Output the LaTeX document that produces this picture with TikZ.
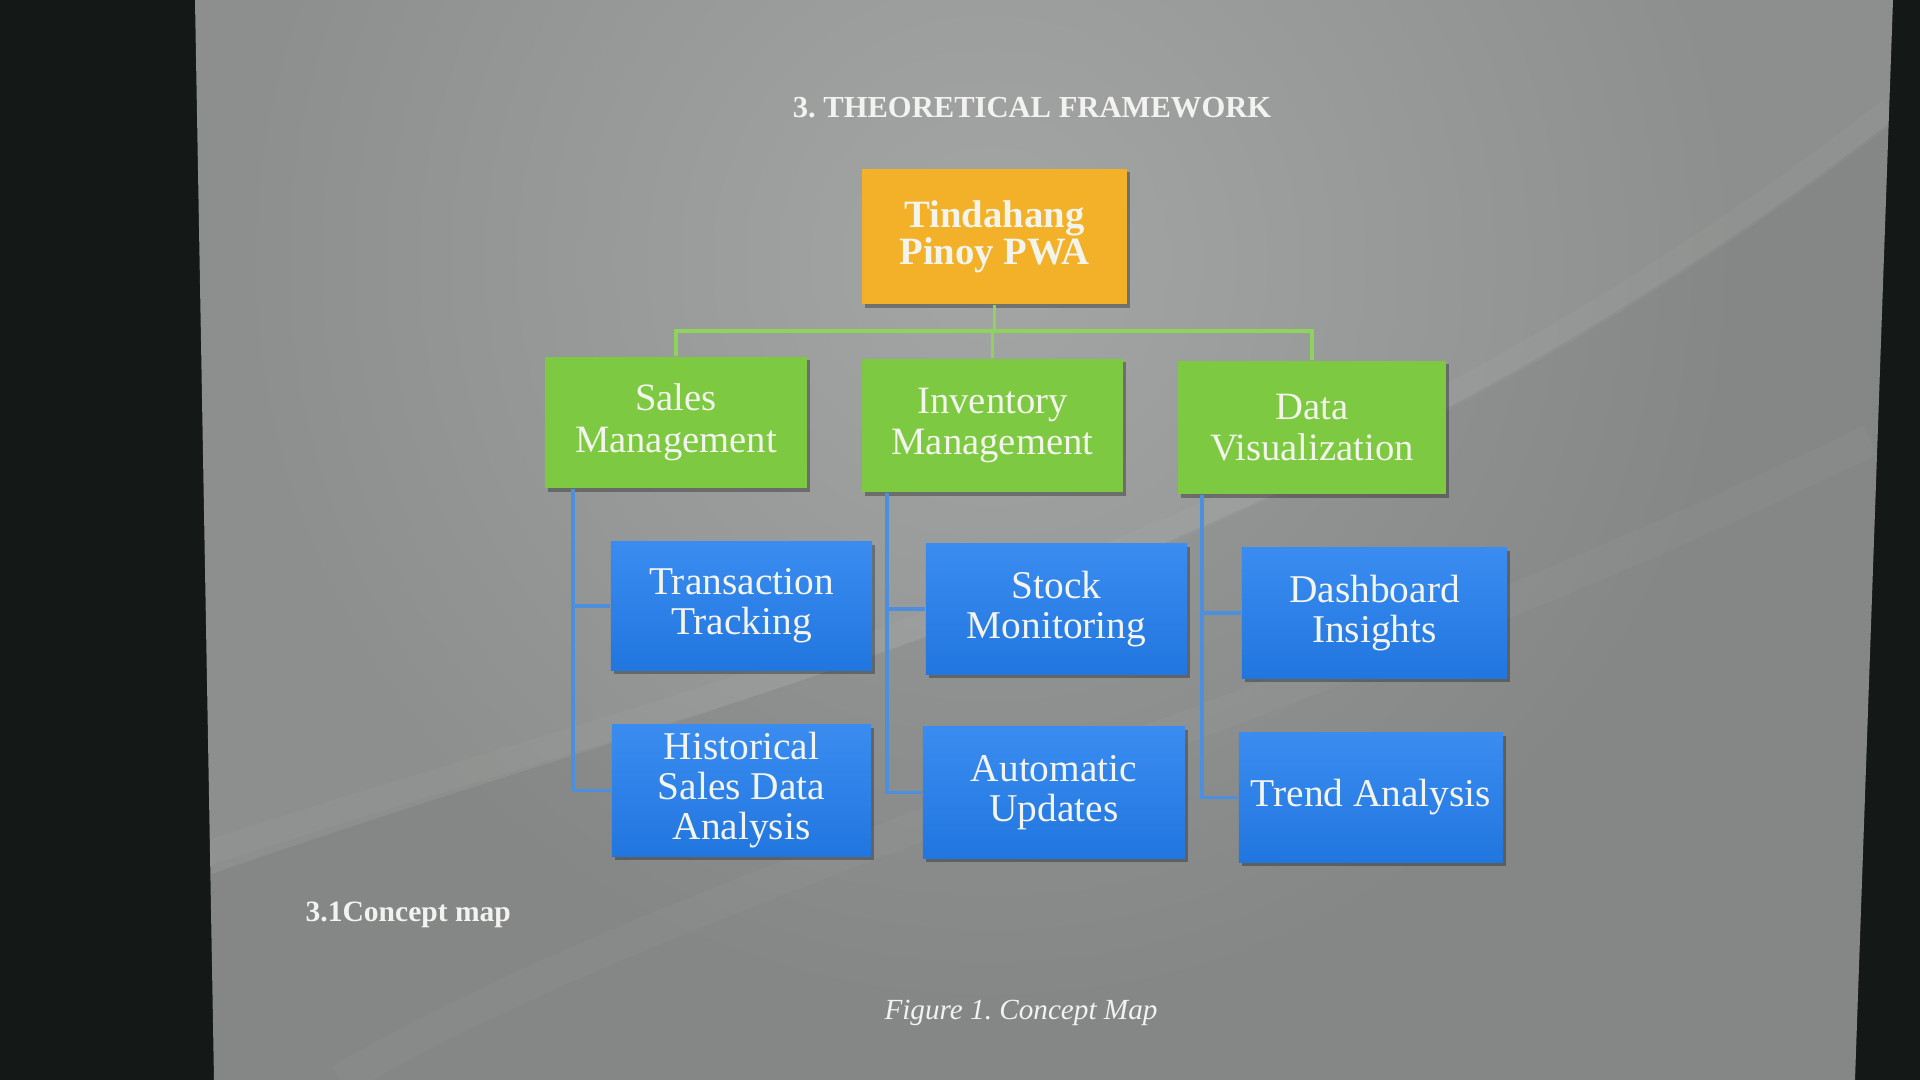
\documentclass[tikz,border=0pt]{standalone}
\usepackage{fontspec}
\setmainfont{Liberation Serif}
\usetikzlibrary{calc,shadows}
\definecolor{screenblack}{HTML}{141816}
\definecolor{slidegray}{HTML}{8C8F8D}
\definecolor{slidelight}{HTML}{A3A6A4}
\definecolor{slidedark}{HTML}{7E817F}
\definecolor{orangec}{HTML}{F2B128}
\definecolor{greenc}{HTML}{7DC942}
\definecolor{bluetop}{HTML}{3A8CF0}
\definecolor{bluebot}{HTML}{2176DF}
\definecolor{greenline}{HTML}{8ED35C}
\definecolor{blueline}{HTML}{4B8FDD}
\definecolor{boxtext}{HTML}{F3F4EC}
\definecolor{pagetextc}{HTML}{F2F2F0}
\tikzset{
  boxbase/.style={draw=none, inner sep=0pt, align=center, text=boxtext,
    drop shadow={shadow xshift=0.8pt, shadow yshift=-1pt, opacity=0.3, fill=black}},
  rootbox/.style={boxbase, fill=orangec, font=\fontsize{11}{10.6}\selectfont\bfseries},
  greenbox/.style={boxbase, fill=greenc, font=\fontsize{11}{11.8}\selectfont},
  bluebox/.style={boxbase, top color=bluetop, bottom color=bluebot, font=\fontsize{11.2}{11.4}\selectfont},
  greenconn/.style={draw=greenline, line width=1.1pt},
  blueconn/.style={draw=blueline, line width=1pt},
  pagetext/.style={text=pagetextc, inner sep=0pt},
}
\begin{document}
\frenchspacing
\begin{tikzpicture}[x=0.01cm, y=-0.01cm]
\useasboundingbox (0,0) rectangle (1920,1080);
% screen surroundings and slide
\fill[screenblack] (0,0) rectangle (1920,1080);
\fill[slidegray] (195,0) -- (1893,0) -- (1855,1080) -- (214,1080) -- cycle;
\begin{scope}
  \clip (195,0) -- (1893,0) -- (1855,1080) -- (214,1080) -- cycle;
  \shade[inner color=slidelight, outer color=slidegray] (990,260) circle[radius=7.5cm];
  \fill[black, opacity=0.05] (195,880) .. controls (700,700) and (1300,580) .. (1893,120) -- (1893,1080) -- (195,1080) -- cycle;
  \draw[white, opacity=0.035, line width=7pt] (196,857) .. controls (700,690) and (1300,570) .. (1890,110);
  \draw[white, opacity=0.03, line width=9pt] (340,1080) .. controls (700,870) and (1300,720) .. (1870,440);
\end{scope}

% page texts
\node[pagetext, font=\fontsize{8.7}{10}\selectfont\bfseries] (title) at (1032,108) {3. THEORETICAL FRAMEWORK};
\node[pagetext, font=\fontsize{8.4}{10}\selectfont\bfseries, anchor=west] (sub) at (305,915) {3.1Concept map};
\node[pagetext, font=\fontsize{8.3}{10}\selectfont\itshape] (cap) at (1021,1013) {Figure 1. Concept Map};

% boxes
\node[rootbox, minimum width=2.65cm, minimum height=1.35cm] (root) at (994.5,236.5) {Tindahang\\Pinoy PWA};

\node[greenbox, minimum width=2.62cm, minimum height=1.31cm] (sales) at (676,422.5) {Sales\\Management};
\node[greenbox, minimum width=2.61cm, minimum height=1.33cm] (inv) at (992.5,425.5) {Inventory\\Management};
\node[greenbox, minimum width=2.68cm, minimum height=1.33cm] (data) at (1312,427.5) {Data\\Visualization};

\node[bluebox, minimum width=2.61cm, minimum height=1.28cm] (trans) at (741.5,606) {Transaction\\Tracking};
\node[bluebox, minimum width=2.61cm, minimum height=1.30cm] (stock) at (1056.5,609) {Stock\\Monitoring};
\node[bluebox, minimum width=2.65cm, minimum height=1.30cm] (dash) at (1374.5,613) {Dashboard\\Insights};

\node[bluebox, minimum width=2.59cm, minimum height=1.31cm] (hist) at (741.5,790.5) {Historical\\Sales Data\\Analysis};
\node[bluebox, minimum width=2.62cm, minimum height=1.31cm] (auto) at (1054,792.5) {Automatic\\Updates};
\node[bluebox, minimum width=2.64cm, minimum height=1.29cm] (trend) at (1371,797.5) {Trend Analysis};

% green connectors
\coordinate (bus) at (994.5,331);
\draw[greenconn] (root.south) -- (bus);
\draw[greenconn] (sales.north) |- (bus) -| (data.north);
\draw[greenconn] (inv.north |- bus) -- (inv.north);

% blue connectors
\coordinate (sv) at ($(sales.south west)+(29,0)$);
\coordinate (iv) at ($(inv.south west)+(26,0)$);
\coordinate (dv) at ($(data.south west)+(25,0)$);
\draw[blueconn] (sv) |- (trans.west);
\draw[blueconn] (sv) |- (hist.west);
\draw[blueconn] (iv) |- (stock.west);
\draw[blueconn] (iv) |- (auto.west);
\draw[blueconn] (dv) |- (dash.west);
\draw[blueconn] (dv) |- (trend.west);
\end{tikzpicture}
\end{document}
